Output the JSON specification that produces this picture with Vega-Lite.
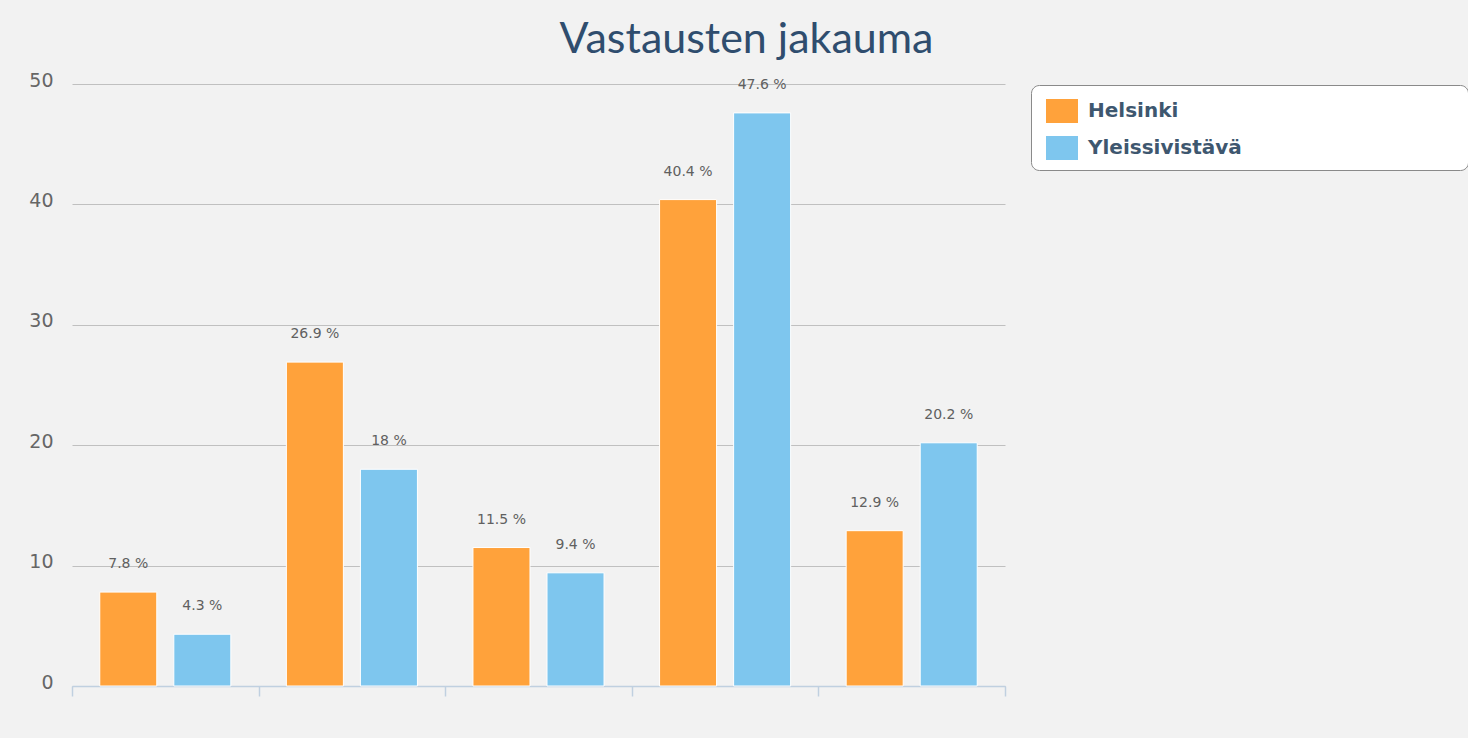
{
  "$schema": "https://vega.github.io/schema/vega-lite/v6.json",
  "width": 933,
  "height": 602,
  "autosize": {"type": "none"},
  "padding": {"left": 72, "top": 84, "right": 463, "bottom": 52},
  "background": "#f2f2f2",
  "config": {"view": {"stroke": null}},
  "title": {
    "text": "Vastausten jakauma",
    "font": "Lato",
    "fontSize": 43,
    "fontWeight": "normal",
    "color": "#2f4d6e",
    "anchor": "middle",
    "frame": "group",
    "dx": 208,
    "dy": 40,
    "baseline": "alphabetic",
    "offset": 15
  },
  "data": {
    "values": [
      {"kategoria": "1", "sarja": "Helsinki", "arvo": 7.8},
      {"kategoria": "1", "sarja": "Yleissivistävä", "arvo": 4.3},
      {"kategoria": "2", "sarja": "Helsinki", "arvo": 26.9},
      {"kategoria": "2", "sarja": "Yleissivistävä", "arvo": 18},
      {"kategoria": "3", "sarja": "Helsinki", "arvo": 11.5},
      {"kategoria": "3", "sarja": "Yleissivistävä", "arvo": 9.4},
      {"kategoria": "4", "sarja": "Helsinki", "arvo": 40.4},
      {"kategoria": "4", "sarja": "Yleissivistävä", "arvo": 47.6},
      {"kategoria": "5", "sarja": "Helsinki", "arvo": 12.9},
      {"kategoria": "5", "sarja": "Yleissivistävä", "arvo": 20.2}
    ]
  },
  "transform": [{"calculate": "datum.arvo + ' %'", "as": "teksti"}],
  "encoding": {
    "x": {
      "field": "kategoria",
      "type": "nominal",
      "scale": {"paddingInner": 0, "paddingOuter": 0},
      "axis": {
        "title": null,
        "labels": false,
        "domainColor": "#C0D0E0",
        "domainWidth": 1.5,
        "tickColor": "#C0D0E0",
        "tickWidth": 1.5,
        "tickSize": 10,
        "tickBand": "extent",
        "grid": false
      }
    },
    "xOffset": {
      "field": "sarja",
      "type": "nominal",
      "scale": {"paddingInner": 0.23, "paddingOuter": 0.375}
    },
    "y": {
      "field": "arvo",
      "type": "quantitative",
      "scale": {"domain": [0, 50]},
      "axis": {
        "title": null,
        "values": [0, 10, 20, 30, 40, 50],
        "domain": false,
        "ticks": false,
        "grid": true,
        "gridColor": "#C0C0C0",
        "gridWidth": 1.2,
        "labelFont": "DejaVu Sans",
        "labelFontSize": 19,
        "labelColor": "#666666",
        "labelPadding": 19,
        "labelOffset": -4
      }
    }
  },
  "layer": [
    {
      "mark": {"type": "bar", "stroke": "#ffffff", "strokeWidth": 1},
      "encoding": {
        "color": {
          "field": "sarja",
          "type": "nominal",
          "scale": {"domain": ["Helsinki", "Yleissivistävä"], "range": ["#FFA23B", "#7EC6EE"]},
          "legend": {
            "title": null,
            "orient": "none",
            "legendX": 959,
            "legendY": 1,
            "fillColor": "#ffffff",
            "strokeColor": "#8a8a8a",
            "cornerRadius": 8,
            "padding": 10,
            "symbolType": "M-1,-0.75L1,-0.75L1,0.75L-1,0.75Z",
            "symbolSize": 1024,
            "symbolStrokeWidth": 0,
            "symbolOffset": 5,
            "rowPadding": 9,
            "labelOffset": 10,
            "labelFont": "DejaVu Sans",
            "labelFontSize": 20,
            "labelFontWeight": "bold",
            "labelColor": "#3E576F",
            "labelLimit": 420,
            "labelExpr": "datum.label + '\u00a0\u00a0\u00a0\u00a0\u00a0\u00a0\u00a0\u00a0\u00a0\u00a0\u00a0\u00a0\u00a0\u00a0\u00a0\u00a0\u00a0\u00a0\u00a0\u00a0\u00a0\u00a0\u00a0\u00a0\u00a0\u00a0\u00a0\u00a0\u00a0\u00a0\u00a0\u200b'"
          }
        }
      }
    },
    {
      "mark": {
        "type": "text",
        "baseline": "alphabetic",
        "dy": -24,
        "font": "DejaVu Sans",
        "fontSize": 14,
        "color": "#606060"
      },
      "encoding": {"text": {"field": "teksti", "type": "nominal"}}
    }
  ]
}
